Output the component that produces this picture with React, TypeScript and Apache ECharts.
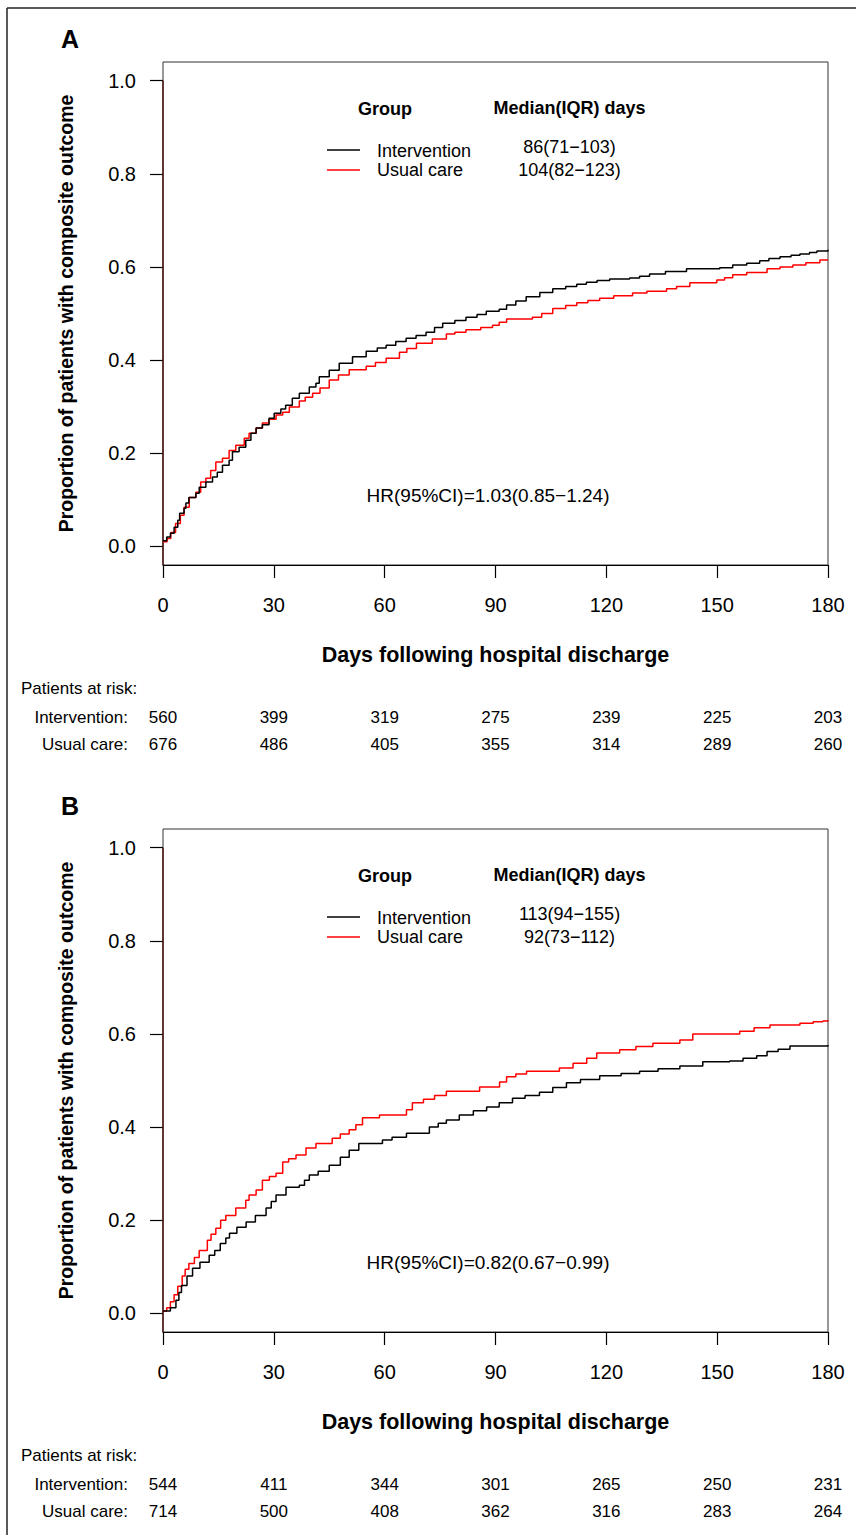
import React, { useEffect, useRef } from "react";
import * as echarts from "echarts";

const DAY_TICKS = [0, 30, 60, 90, 120, 150, 180];
const Y_TICKS = [0, 0.2, 0.4, 0.6, 0.8, 1.0];
const RISK_ROWS = ["Intervention:", "Usual care:"];
const GROUPS = ["Intervention", "Usual care"];

const A_INTERVENTION: [number, number][] = [
  [0, 0.012], [1, 0.02], [2, 0.028], [3, 0.041], [4, 0.056], [4.5, 0.071], [5.7, 0.082], [6.2, 0.093], [7, 0.105],
  [8.9, 0.114], [9.8, 0.127], [11.6, 0.138], [13.4, 0.149], [14.7, 0.159], [16.1, 0.174], [17.9, 0.185], [18.8, 0.203],
  [20.6, 0.213], [22.4, 0.228], [23.8, 0.243], [25.2, 0.254], [26.9, 0.261], [28.7, 0.275], [30.1, 0.286], [31.9, 0.295],
  [33.2, 0.303], [35, 0.318], [36.9, 0.329], [39.6, 0.342], [41.4, 0.35], [42.3, 0.364], [45, 0.378], [47.7, 0.393],
  [51.3, 0.407], [55, 0.419], [58, 0.426], [60.4, 0.432], [63, 0.44], [65.8, 0.447], [68.5, 0.453], [71.2, 0.46],
  [73.5, 0.47], [75.7, 0.479], [79, 0.485], [82, 0.492], [85, 0.498], [87.5, 0.505], [91, 0.509], [93, 0.518],
  [95.5, 0.527], [98.3, 0.536], [102, 0.545], [105.5, 0.553], [109, 0.558], [112, 0.563], [114.6, 0.567], [117.5, 0.571],
  [120.9, 0.574], [126.3, 0.576], [129, 0.58], [131.7, 0.585], [136, 0.59], [141.7, 0.596], [150.7, 0.598], [154.2, 0.604],
  [158, 0.608], [161.5, 0.613], [164, 0.618], [167, 0.622], [170, 0.625], [172.4, 0.628], [175, 0.631], [177, 0.634], [180, 0.637],
];

const A_USUAL: [number, number][] = [
  [0, 0.01], [1.1, 0.017], [2.1, 0.03], [3.4, 0.049], [4.7, 0.067], [5.7, 0.084], [7.1, 0.105], [8.9, 0.116], [10.2, 0.138],
  [11.6, 0.146], [12.9, 0.163], [14.3, 0.181], [16.1, 0.189], [17.9, 0.206], [19.7, 0.217], [22, 0.232], [23.3, 0.243],
  [25.2, 0.254], [26.9, 0.265], [28.7, 0.273], [30.6, 0.282], [32.4, 0.288], [34.2, 0.299], [36.9, 0.312], [38.5, 0.32],
  [40.5, 0.329], [42.5, 0.34], [45, 0.357], [47.5, 0.368], [50.4, 0.379], [55, 0.387], [57.5, 0.395], [60.4, 0.404],
  [64, 0.417], [66, 0.425], [68.6, 0.436], [72.9, 0.445], [76.7, 0.456], [79, 0.46], [82, 0.465], [86, 0.47], [89.2, 0.475],
  [91, 0.481], [93, 0.488], [100, 0.492], [102.5, 0.5], [105.5, 0.511], [109, 0.517], [112, 0.523], [115, 0.528],
  [118.2, 0.533], [122, 0.538], [127.1, 0.544], [131, 0.548], [136.3, 0.553], [139, 0.558], [142.6, 0.566], [149.9, 0.572],
  [152, 0.577], [154.2, 0.583], [158, 0.588], [163.5, 0.596], [167, 0.6], [170.5, 0.604], [174, 0.609], [177.8, 0.615], [180, 0.616],
];

const B_INTERVENTION: [number, number][] = [
  [0, 0.005], [2, 0.012], [3.5, 0.028], [4.3, 0.045], [5, 0.06], [6.5, 0.08], [8, 0.097], [10, 0.11], [12.5, 0.125],
  [14, 0.135], [15.5, 0.15], [17, 0.162], [18, 0.172], [20, 0.185], [22.5, 0.196], [25, 0.21], [27.9, 0.226], [29.3, 0.24],
  [30.6, 0.254], [33.3, 0.271], [36.9, 0.275], [38.3, 0.286], [39.6, 0.297], [42, 0.305], [45, 0.318], [48, 0.335],
  [50.4, 0.35], [53, 0.365], [59.4, 0.372], [62, 0.378], [65.9, 0.387], [72.1, 0.4], [74.5, 0.408], [76.7, 0.415],
  [80.2, 0.426], [84, 0.435], [87.6, 0.443], [91, 0.452], [94.6, 0.462], [98, 0.468], [101.9, 0.475], [105.5, 0.485],
  [109.2, 0.495], [113, 0.502], [118.2, 0.51], [124, 0.515], [129, 0.52], [134, 0.525], [139.9, 0.531], [146.1, 0.54],
  [153.4, 0.542], [157, 0.548], [160.7, 0.553], [163.5, 0.562], [166.5, 0.567], [169.7, 0.574], [180, 0.576],
];

const B_USUAL: [number, number][] = [
  [0, 0.005], [1, 0.012], [2, 0.025], [3, 0.04], [4, 0.058], [5.2, 0.08], [6, 0.095], [7, 0.107], [8.5, 0.12], [9.8, 0.135],
  [12, 0.157], [13, 0.17], [14.3, 0.183], [15.6, 0.2], [17, 0.21], [19.7, 0.226], [22.4, 0.243], [23.3, 0.254], [25.2, 0.265],
  [26.9, 0.286], [28.8, 0.294], [30.6, 0.301], [32.4, 0.325], [34, 0.332], [36, 0.34], [38.7, 0.355], [41.4, 0.365],
  [45.8, 0.376], [48, 0.385], [50.4, 0.394], [52.2, 0.405], [54, 0.42], [58.6, 0.426], [65.9, 0.437], [67.5, 0.452],
  [70.5, 0.46], [73.5, 0.468], [76.7, 0.477], [85.7, 0.486], [91.1, 0.497], [93, 0.508], [95.5, 0.514], [98.4, 0.52],
  [107.3, 0.527], [111, 0.537], [114.7, 0.548], [117.4, 0.559], [123.6, 0.566], [128, 0.573], [132.6, 0.58], [139.9, 0.587],
  [143.4, 0.6], [156.1, 0.606], [160, 0.613], [164.3, 0.619], [172.4, 0.623], [176, 0.626], [178.6, 0.628], [180, 0.63],
];

const A_RISK_INTERVENTION = [560, 399, 319, 275, 239, 225, 203];
const A_RISK_USUAL = [676, 486, 405, 355, 314, 289, 260];
const B_RISK_INTERVENTION = [544, 411, 344, 301, 265, 250, 231];
const B_RISK_USUAL = [714, 500, 408, 362, 316, 283, 264];

const A_MEDIANS = ["86(71\u2212103)", "104(82\u2212123)"];
const B_MEDIANS = ["113(94\u2212155)", "92(73\u2212112)"];
const A_HR = "HR(95%CI)=1.03(0.85\u22121.24)";
const B_HR = "HR(95%CI)=0.82(0.67\u22120.99)";

const FONT = "'Liberation Sans', Arial, Helvetica, sans-serif";
const BLACK = "#000000";
const RED = "#ff0000";

export default function App() {
  const ref = useRef<HTMLDivElement>(null);

  useEffect(() => {
    document.body.style.margin = "0";
    if (!ref.current) return;
    const chart = echarts.init(ref.current, undefined, { renderer: "svg" });

    const panels = [
      { letter: "A", dy: 0, inter: A_INTERVENTION, usual: A_USUAL, riskI: A_RISK_INTERVENTION, riskU: A_RISK_USUAL, med: A_MEDIANS, hr: A_HR },
      { letter: "B", dy: 767, inter: B_INTERVENTION, usual: B_USUAL, riskI: B_RISK_INTERVENTION, riskU: B_RISK_USUAL, med: B_MEDIANS, hr: B_HR },
    ];

    const grids: any[] = [];
    const xAxes: any[] = [];
    const yAxes: any[] = [];
    const series: any[] = [];
    const graphics: any[] = [];

    const txt = (text: string, x: number, y: number, size: number, bold: boolean, align = "center") => ({
      type: "text",
      x,
      y,
      silent: true,
      style: {
        text,
        fontSize: size,
        fontWeight: bold ? "bold" : "normal",
        fontFamily: FONT,
        fill: "#000",
        align,
        verticalAlign: "middle",
      },
    });

    panels.forEach((p, pi) => {
      const gMain = pi * 2;
      const gRisk = pi * 2 + 1;
      grids.push({
        left: 163,
        top: 62 + p.dy,
        width: 665,
        height: 503,
        show: true,
        borderColor: "#333",
        borderWidth: 1,
        backgroundColor: "transparent",
      });
      grids.push({ left: 163, top: 703.5 + p.dy, width: 665, height: 54 });

      xAxes.push({
        gridIndex: gMain,
        type: "value",
        min: 0,
        max: 180,
        interval: 30,
        name: "Days following hospital discharge",
        nameLocation: "middle",
        nameGap: 79,
        nameTextStyle: { fontSize: 21.5, fontWeight: "bold", fontFamily: FONT, color: "#000" },
        axisLine: { show: true, onZero: false, lineStyle: { color: "#000", width: 1.2 } },
        axisTick: { show: true, length: 13, lineStyle: { color: "#000", width: 1.2 } },
        axisLabel: { show: true, margin: 30, fontSize: 20, fontFamily: FONT, color: "#000" },
        splitLine: { show: false },
      });
      xAxes.push({
        gridIndex: gRisk,
        type: "value",
        min: 0,
        max: 180,
        interval: 30,
        show: false,
      });

      yAxes.push({
        gridIndex: gMain,
        type: "value",
        min: -0.04,
        max: 1.04,
        name: "Proportion of patients with composite outcome",
        nameLocation: "middle",
        nameGap: 87,
        nameTextStyle: { fontSize: 19.5, fontWeight: "bold", fontFamily: FONT, color: "#000" },
        axisLine: { show: false, onZero: false },
        axisTick: { show: true, length: 13, customValues: Y_TICKS, lineStyle: { color: "#000", width: 1.2 } },
        axisLabel: {
          show: true,
          margin: 27,
          fontSize: 20,
          fontFamily: FONT,
          color: "#000",
          customValues: Y_TICKS,
          formatter: (v: number) => v.toFixed(1),
        },
        splitLine: { show: false },
      });
      yAxes.push({
        gridIndex: gRisk,
        type: "category",
        data: RISK_ROWS,
        inverse: true,
        axisLine: { show: false },
        axisTick: { show: false },
        splitLine: { show: false },
        axisLabel: { show: true, margin: 35, fontSize: 17, fontFamily: FONT, color: "#000" },
      });

      const xi = gMain;
      const yi = gMain;
      series.push({
        type: "line",
        xAxisIndex: xi,
        yAxisIndex: yi,
        data: [[0, -0.04], [0, 1]],
        showSymbol: false,
        symbol: "none",
        clip: false,
        silent: true,
        lineStyle: { color: "#4a0d0d", width: 1.4 },
        z: 1,
      });
      series.push({
        type: "line",
        name: `${p.letter} Usual care`,
        xAxisIndex: xi,
        yAxisIndex: yi,
        data: p.usual,
        step: "end",
        symbol: "none",
        showSymbol: false,
        lineStyle: { color: RED, width: 1.5 },
        z: 3,
      });
      series.push({
        type: "line",
        name: `${p.letter} Intervention`,
        xAxisIndex: xi,
        yAxisIndex: yi,
        data: p.inter,
        step: "end",
        symbol: "none",
        showSymbol: false,
        lineStyle: { color: BLACK, width: 1.5 },
        z: 4,
      });

      const riskLabel = {
        show: true,
        position: "inside",
        fontSize: 17,
        fontFamily: FONT,
        color: "#000",
        opacity: 1,
        formatter: (prm: any) => String(prm.value[2]),
      };
      [p.riskI, p.riskU].forEach((vals, ri) => {
        series.push({
          type: "scatter",
          xAxisIndex: gRisk,
          yAxisIndex: gRisk,
          symbolSize: 2,
          clip: false,
          itemStyle: { color: "rgba(0,0,0,0)" },
          label: riskLabel,
          silent: true,
          z: 5,
          data: DAY_TICKS.map((d, i) => [d, ri, vals[i]]),
        });
      });

      const dy = p.dy;
      graphics.push(txt(p.letter, 70, 39 + dy, 25, true));
      graphics.push(txt("Group", 385, 108.5 + dy, 18, true));
      graphics.push(txt("Median(IQR) days", 569.5, 108 + dy, 18, true));
      graphics.push({ type: "line", silent: true, shape: { x1: 327, y1: 150 + dy, x2: 360, y2: 150 + dy }, style: { stroke: BLACK, lineWidth: 1.5 } });
      graphics.push({ type: "line", silent: true, shape: { x1: 327, y1: 170 + dy, x2: 360, y2: 170 + dy }, style: { stroke: RED, lineWidth: 1.5 } });
      graphics.push(txt(GROUPS[0], 377, 150.5 + dy, 18, false, "left"));
      graphics.push(txt(GROUPS[1], 377, 170 + dy, 18, false, "left"));
      graphics.push(txt(p.med[0], 569.5, 147 + dy, 18, false));
      graphics.push(txt(p.med[1], 569.5, 170 + dy, 18, false));
      graphics.push(txt(p.hr, 488, 495 + dy, 19, false));
      graphics.push(txt("Patients at risk:", 21, 688 + dy, 17, false, "left"));
    });

    graphics.push({ type: "line", silent: true, shape: { x1: 7, y1: 8, x2: 856, y2: 8 }, style: { stroke: "#222", lineWidth: 1.5 } });
    graphics.push({ type: "line", silent: true, shape: { x1: 7, y1: 8, x2: 7, y2: 1535 }, style: { stroke: "#222", lineWidth: 1.5 } });

    chart.setOption({
      animation: false,
      backgroundColor: "#ffffff",
      textStyle: { fontFamily: FONT },
      grid: grids,
      xAxis: xAxes,
      yAxis: yAxes,
      series,
      graphic: graphics,
    });

    return () => {
      chart.dispose();
    };
  }, []);

  return <div ref={ref} style={{ width: 856, height: 1535 }} />;
}
